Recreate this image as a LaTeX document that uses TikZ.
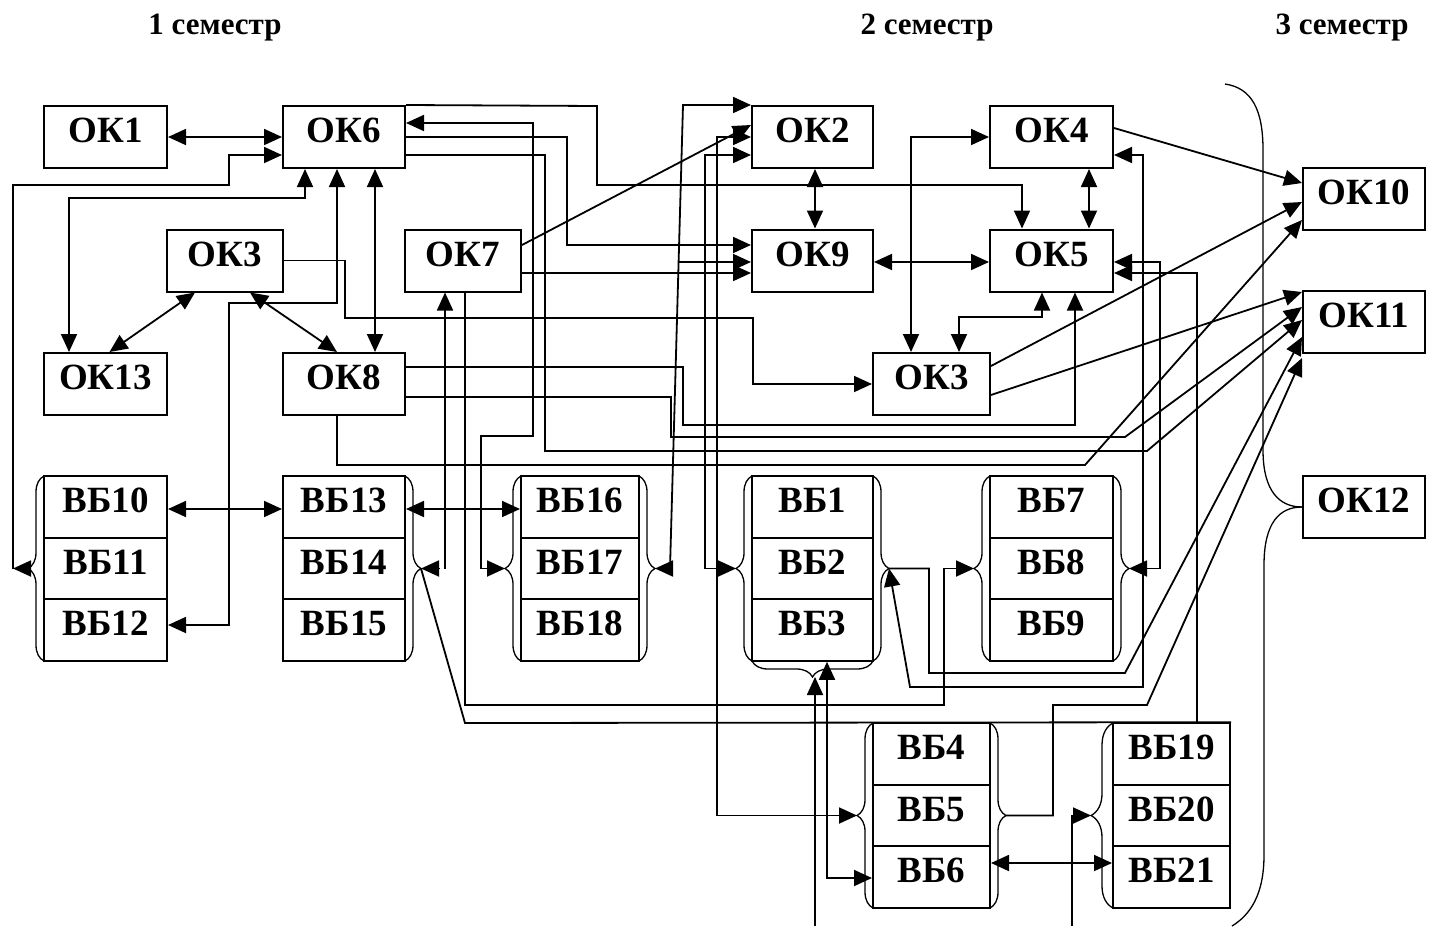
\documentclass[tikz,border=0pt]{standalone}
\usepackage{fontspec}
\setmainfont{Liberation Serif}
\usetikzlibrary{arrows.meta,decorations.pathreplacing}
\begin{document}
\begin{tikzpicture}[x=1pt,y=-1pt,
  box/.style={draw,line width=2pt,minimum height=62pt,inner sep=0pt,
    font=\fontsize{37}{37}\selectfont\bfseries,text height=25pt,text depth=14pt},
  cell/.style={box,minimum height=61.6pt},
  con/.style={line width=1.8pt},
  arr/.style={con,-{Triangle[length=18pt,width=16pt]}},
  dbl/.style={con,{Triangle[length=18pt,width=16pt]}-{Triangle[length=18pt,width=16pt]}},
  br/.style={line width=1.3pt,decorate,decoration={brace,amplitude=#1}},
  br/.default=16pt,
  head/.style={font=\fontsize{31}{31}\selectfont\bfseries}]
\useasboundingbox (0,0) rectangle (1437,926);

% headers
\node[head] (h1) at (215,28) {1 семестр};
\node[head] (h2) at (927,28) {2 семестр};
\node[head] (h3) at (1342,28) {3 семестр};

% OK boxes
\node[box,minimum width=123pt] (ok1) at (105.5,137) {ОК1};
\node[box,minimum width=122pt] (ok6) at (344,137) {ОК6};
\node[box,minimum width=116pt] (ok3a) at (225,260.5) {ОК3};
\node[box,minimum width=123pt] (ok13) at (105.5,384) {ОК13};
\node[box,minimum width=122pt] (ok8) at (344,384) {ОК8};
\node[box,minimum width=116pt] (ok7) at (463,260.5) {ОК7};
\node[box,minimum width=121pt] (ok2) at (812.5,137) {ОК2};
\node[box,minimum width=121pt] (ok9) at (812.5,260.5) {ОК9};
\node[box,minimum width=123pt] (ok4) at (1051.5,137) {ОК4};
\node[box,minimum width=123pt] (ok5) at (1051.5,260.5) {ОК5};
\node[box,minimum width=117pt] (ok3b) at (931.5,384) {ОК3};
\node[box,minimum width=122pt] (ok10) at (1364,199) {ОК10};
\node[box,minimum width=122pt] (ok11) at (1364,322) {ОК11};
\node[box,minimum width=122pt] (ok12) at (1364,507) {ОК12};

% VB groups
\node[cell,minimum width=123pt] (vb10) at (105.5,507) {ВБ10};
\node[cell,minimum width=123pt] (vb11) at (105.5,568.5) {ВБ11};
\node[cell,minimum width=123pt] (vb12) at (105.5,630) {ВБ12};
\node[cell,minimum width=122pt] (vb13) at (344,507) {ВБ13};
\node[cell,minimum width=122pt] (vb14) at (344,568.5) {ВБ14};
\node[cell,minimum width=122pt] (vb15) at (344,630) {ВБ15};
\node[cell,minimum width=118pt] (vb16) at (580,507) {ВБ16};
\node[cell,minimum width=118pt] (vb17) at (580,568.5) {ВБ17};
\node[cell,minimum width=118pt] (vb18) at (580,630) {ВБ18};
\node[cell,minimum width=121pt] (vb1) at (812.5,507) {ВБ1};
\node[cell,minimum width=121pt] (vb2) at (812.5,568.5) {ВБ2};
\node[cell,minimum width=121pt] (vb3) at (812.5,630) {ВБ3};
\node[cell,minimum width=123pt] (vb7) at (1051.5,507) {ВБ7};
\node[cell,minimum width=123pt] (vb8) at (1051.5,568.5) {ВБ8};
\node[cell,minimum width=123pt] (vb9) at (1051.5,630) {ВБ9};
\node[cell,minimum width=117pt] (vb4) at (931.5,754) {ВБ4};
\node[cell,minimum width=117pt] (vb5) at (931.5,815.5) {ВБ5};
\node[cell,minimum width=117pt] (vb6) at (931.5,877) {ВБ6};
\node[cell,minimum width=117pt] (vb19) at (1171.5,754) {ВБ19};
\node[cell,minimum width=117pt] (vb20) at (1171.5,815.5) {ВБ20};
\node[cell,minimum width=117pt] (vb21) at (1171.5,877) {ВБ21};

% braces
\draw[br] (44,661) -- (44,476);
\draw[br] (405,476) -- (405,661);
\draw[br] (521,661) -- (521,476);
\draw[br] (639,476) -- (639,661);
\draw[br] (752,661) -- (752,476);
\draw[br] (873,476) -- (873,661);
\draw[br] (873,661) -- (752,661);
\draw[br] (990,661) -- (990,476);
\draw[br] (1113,476) -- (1113,661);
\draw[br] (873,908) -- (873,723);
\draw[br] (990,723) -- (990,908);
\draw[br=22pt] (1113,908) -- (1113,723);
\draw[line width=1.3pt] (1225,84) .. controls (1252,88) and (1263,110) .. (1263,150)
  -- (1263,450) .. controls (1263,492) and (1280,507) .. (ok12.west);
\draw[line width=1.3pt] (ok12.west) .. controls (1280,507) and (1264,522) .. (1264,565)
  -- (1264,855) .. controls (1264,895) and (1250,915) .. (1232,926);

% brace tips and free ends
\coordinate (t1) at (28,568.5);
\coordinate (t2) at (421,568.5);
\coordinate (t3l) at (505,568.5);
\coordinate (t3r) at (655,568.5);
\coordinate (t4l) at (736,568.5);
\coordinate (t4r) at (889,568.5);
\coordinate (t4b) at (812.5,677);
\coordinate (t5l) at (974,568.5);
\coordinate (t5r) at (1129,568.5);
\coordinate (t6l) at (857,815.5);
\coordinate (t6r) at (1006,815.5);
\coordinate (t7) at (1091,815.5);
\coordinate (f1) at (13,568.5);
\coordinate (f2) at (440,568.5);
\coordinate (f3) at (445,568.5);
\coordinate (in1) at (815,926);
\coordinate (in2) at (1072,926);

% connectors, left part
\draw[dbl] (ok1.east) -- (ok6.west);
\draw[arr] (f1) -- (13,185) -- (229,185) -- (229,155) -- ([yshift=-18pt]ok6.west);
\draw[arr] (t1) -- (f1);
\draw[dbl] ([xshift=-39pt]ok6.south) -- (305,198) -- (69,198) -- ([xshift=-36.5pt]ok13.north);
\draw[dbl] ([xshift=-7pt]ok6.south) -- (337,303) -- (229,303) -- (229,625) -- ([yshift=5pt]vb12.east);
\draw[dbl] ([xshift=31pt]ok6.south) -- ([xshift=31pt]ok8.north);
\draw[dbl] ([xshift=-30pt]ok3a.south) -- ([xshift=4pt]ok13.north);
\draw[dbl] ([xshift=25pt]ok3a.south) -- ([xshift=-7pt]ok8.north);
\draw[arr] (ok3a.east) -- (345,260.5) -- (345,318) -- (753,318) -- (753,384) -- (ok3b.west);
\draw[arr] (ok6.north east) -- (597,106) -- (597,185) -- (1022,185) -- ([xshift=-29.5pt]ok5.north);
\draw[dbl] (t3l) -- (481,568.5) -- (481,436) -- (533,436) -- (533,123) -- ([yshift=14pt]ok6.east);
\draw[arr] (ok6.east) -- (567,137) -- (567,245) -- ([yshift=15.5pt]ok9.west);
\draw[arr] ([yshift=-18pt]ok6.east) -- (545,155) -- (545,451) -- (1147,451) -- ([yshift=2pt]ok11.west);
\draw[arr] ([yshift=17pt]ok8.east) -- (683,367) -- (683,425) -- (1075,425) -- ([xshift=23.5pt]ok5.south);
\draw[arr] ([yshift=-13pt]ok8.east) -- (671,397) -- (671,437) -- (1125,437) -- ([yshift=15pt]ok11.west);
\draw[arr] ([xshift=-7pt]ok8.south) -- (337,465) -- (1085,465) -- ([yshift=-21pt]ok10.west);
\draw[arr] ([yshift=15.5pt]ok7.east) -- ([yshift=12pt]ok2.west);
\draw[arr] ([yshift=-12.5pt]ok7.east) -- ([yshift=-12.5pt]ok9.west);
\draw[arr] (f3) -- ([xshift=-18pt]ok7.south);
\draw[arr] (f2) -- (t2);
\draw[con] (t2) -- (465,723) -- (vb19.north east);
\draw[arr] ([xshift=2pt]ok7.south) -- (465,705) -- (944,705) -- (944,568.5) -- (t5l);
\draw[dbl] ([yshift=-2pt]vb10.east) -- ([yshift=-2pt]vb13.west);
\draw[dbl] ([yshift=-2pt]vb13.east) -- ([yshift=-2pt]vb16.west);

% middle part
\draw[dbl] (t3r) -- (670,568.5) -- (683,105) -- ([yshift=32pt]ok2.west);
\draw[arr] (679,262) -- ([yshift=-1.5pt]ok9.west);
\draw[dbl] (ok2.west) -- (717,137) -- (717,815.5) -- (t6l);
\draw[dbl] ([yshift=-18pt]ok2.west) -- (705,155) -- (705,568.5) -- (t4l);
\draw[dbl] ([xshift=2.5pt]ok2.south) -- ([xshift=2.5pt]ok9.north);
\draw[dbl] ([yshift=-1.5pt]ok9.east) -- ([yshift=-1.5pt]ok5.west);
\draw[dbl] ([xshift=37.5pt]ok4.south) -- ([xshift=37.5pt]ok5.north);
\draw[dbl] (ok4.west) -- (911,137) -- ([xshift=-20.5pt]ok3b.north);
\draw[dbl] ([xshift=-9.5pt]ok5.south) -- (1042,317) -- (959,317) -- ([xshift=27.5pt]ok3b.north);

% right part
\draw[arr] ([yshift=9pt]ok4.east) -- ([yshift=16pt]ok10.west);
\draw[arr] ([yshift=18pt]ok3b.east) -- ([yshift=-3pt]ok10.west);
\draw[arr] ([yshift=-11pt]ok3b.east) -- ([yshift=30pt]ok11.west);
\draw[dbl] ([yshift=-18pt]ok4.east) -- (1143,155) -- (1143,687) -- (910,687) -- (t4r);
\draw[dbl] ([yshift=-1.5pt]ok5.east) -- (1160,262) -- (1160,568.5) -- (t5r);
\draw[arr] ([xshift=25.5pt]vb19.north) -- (1197,273) -- ([yshift=-12.5pt]ok5.east);
\draw[arr] (t4r) -- (929,568.5) -- (929,673) -- (1125,673) -- ([yshift=-15pt]ok11.west);
\draw[arr] (t6r) -- (1053,815.5) -- (1053,705) -- (1147,705) -- ([yshift=-36pt]ok11.west);

% bottom part
\draw[dbl] ([xshift=14.5pt]vb3.south) -- (827,878) -- ([yshift=-1pt]vb6.west);
\draw[arr] (in1) -- (in1 |- t4b);
\draw[dbl] ([yshift=14pt]vb6.east) -- ([yshift=14pt]vb21.west);
\draw[arr] (in2) -- (in2 |- t7) -- (t7);
\end{tikzpicture}
\end{document}
